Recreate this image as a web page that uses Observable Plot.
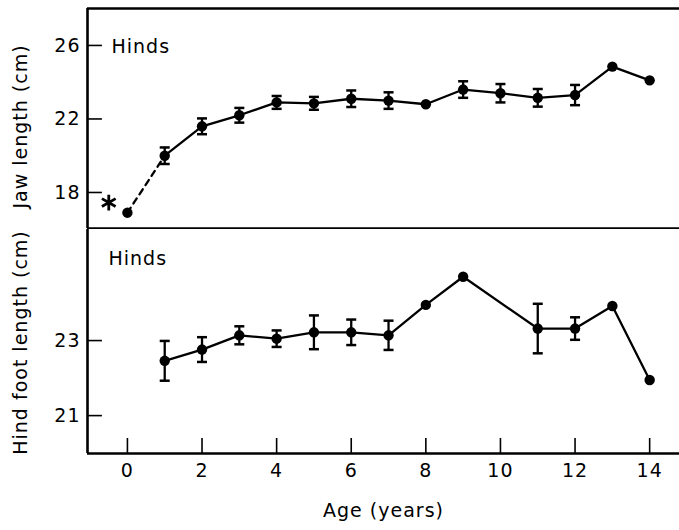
<!DOCTYPE html>
<html><head><meta charset="utf-8">
<script src="https://cdn.jsdelivr.net/npm/d3@7"></script>
<script src="https://cdn.jsdelivr.net/npm/@observablehq/plot@0.6"></script>
<style>
body{margin:0;background:#fff;}
#chart svg{display:block;}
svg text{letter-spacing:1px;}
</style></head><body><div id="chart"></div>
<script>
// ---- data ----
const jawAges = [0, 1, 2, 3, 4, 5, 6, 7, 8, 9, 10, 11, 12, 13, 14];
const jawMean = [16.9, 20.0, 21.6, 22.2, 22.9, 22.85, 23.1, 23.0, 22.8, 23.6, 23.4, 23.15, 23.3, 24.85, 24.1];
const jawErr  = [null, 0.45, 0.43, 0.4, 0.35, 0.35, 0.45, 0.45, null, 0.45, 0.5, 0.48, 0.55, null, null];
const jawStar = [{age: -0.5, v: 17.45}];

const footAges = [1, 2, 3, 4, 5, 6, 7, 8, 9, 11, 12, 13, 14];
const footMean = [22.46, 22.76, 23.14, 23.05, 23.22, 23.22, 23.14, 23.95, 24.7, 23.32, 23.32, 23.92, 21.95];
const footErr  = [0.53, 0.33, 0.24, 0.22, 0.45, 0.34, 0.39, null, null, 0.66, 0.3, null, null];

const xTicks = [0, 2, 4, 6, 8, 10, 12, 14];
const jawTicks = [18, 22, 26];
const footTicks = [21, 23];

const xDomain = [-1.07, 14.8];
const jawDomain = [16.04, 28.01];
const footDomain = [19.99, 25.96];
const tickLenX = 0.4;   // inward tick length, in x units
const tickLenFoot = 0.4; // inward tick length, in foot y units

const jaw = jawAges.map((age, i) => ({age, v: jawMean[i], e: jawErr[i]}));
const foot = footAges.map((age, i) => ({age, v: footMean[i], e: footErr[i]}));

// custom cap symbol for error bars
const capSym = {draw(c, s) { const r = Math.sqrt(s / Math.PI); c.moveTo(-r, 0); c.lineTo(r, 0); }};

const FONT = "DejaVu Sans";
const style = {fontFamily: FONT, fontSize: "19px", color: "black", background: "white"};

function seriesMarks(data, solidFrom) {
  const withErr = data.filter(d => d.e != null);
  return [
    Plot.line(data.filter(d => d.age >= solidFrom), {x: "age", y: "v", stroke: "black", strokeWidth: 2.3}),
    Plot.ruleX(withErr, {x: "age", y1: d => d.v - d.e, y2: d => d.v + d.e, stroke: "black", strokeWidth: 2.3}),
    Plot.dot(withErr, {x: "age", y: d => d.v + d.e, symbol: capSym, r: 5, stroke: "black", strokeWidth: 2.5, fill: "none"}),
    Plot.dot(withErr, {x: "age", y: d => d.v - d.e, symbol: capSym, r: 5, stroke: "black", strokeWidth: 2.5, fill: "none"}),
    Plot.dot(data, {x: "age", y: "v", r: 5.2, fill: "black", stroke: "none"})
  ];
}

const topPlot = Plot.plot({
  width: 679, height: 229,
  marginLeft: 87, marginRight: 0, marginTop: 8, marginBottom: 1,
  style,
  x: {domain: xDomain, axis: null},
  y: {domain: jawDomain},
  marks: [
    Plot.ruleX([xDomain[0]], {stroke: "black", strokeWidth: 2.6}),
    Plot.ruleY([jawDomain[1]], {stroke: "black", strokeWidth: 2.6}),
    Plot.ruleY([jawDomain[0]], {stroke: "black", strokeWidth: 2.6}),
    Plot.axisY(jawTicks, {tickSize: 0, tickPadding: 7, fontSize: 19, label: null}),
    Plot.ruleY(jawTicks, {y: d => d, x1: xDomain[0], x2: xDomain[0] + tickLenX, stroke: "black", strokeWidth: 1.6}),
    Plot.line(jaw.filter(d => d.age <= 1), {x: "age", y: "v", stroke: "black", strokeWidth: 2.3, strokeDasharray: "6,5"}),
    ...seriesMarks(jaw, 1),
    Plot.dot(jawStar, {x: "age", y: "v", symbol: "asterisk", r: 7.5, stroke: "black", strokeWidth: 2.8}),
    Plot.text(["Hinds"], {text: d => d, frameAnchor: "top-left", dx: 24, dy: 38, textAnchor: "start", lineAnchor: "middle", fontSize: 19}),
    Plot.text(["Jaw length (cm)"], {text: d => d, frameAnchor: "left", dx: -67, dy: 8, rotate: -90, textAnchor: "middle", lineAnchor: "middle", fontSize: 19})
  ]
});

const bottomPlot = Plot.plot({
  width: 679, height: 301,
  marginLeft: 87, marginRight: 0, marginTop: 0, marginBottom: 77,
  style,
  x: {domain: xDomain},
  y: {domain: footDomain},
  marks: [
    Plot.ruleX([xDomain[0]], {stroke: "black", strokeWidth: 2.6}),
    Plot.ruleY([footDomain[0]], {stroke: "black", strokeWidth: 2.6}),
    Plot.axisY(footTicks, {tickSize: 0, tickPadding: 7, fontSize: 19, label: null}),
    Plot.axisX(xTicks, {tickSize: 0, tickPadding: 10, fontSize: 19, label: null}),
    Plot.ruleY(footTicks, {y: d => d, x1: xDomain[0], x2: xDomain[0] + tickLenX, stroke: "black", strokeWidth: 1.6}),
    Plot.ruleX(xTicks, {x: d => d, y1: footDomain[0], y2: footDomain[0] + tickLenFoot, stroke: "black", strokeWidth: 1.6}),
    ...seriesMarks(foot, 1),
    Plot.text(["Hinds"], {text: d => d, frameAnchor: "top-left", dx: 21, dy: 29, textAnchor: "start", lineAnchor: "middle", fontSize: 19}),
    Plot.text(["Hind foot length (cm)"], {text: d => d, frameAnchor: "left", dx: -67, dy: 1, rotate: -90, textAnchor: "middle", lineAnchor: "middle", fontSize: 19}),
    Plot.text(["Age (years)"], {text: d => d, frameAnchor: "bottom", dy: 57, textAnchor: "middle", lineAnchor: "middle", fontSize: 19})
  ]
});

const root = document.getElementById("chart");
root.append(topPlot, bottomPlot);
</script>
</body></html>
